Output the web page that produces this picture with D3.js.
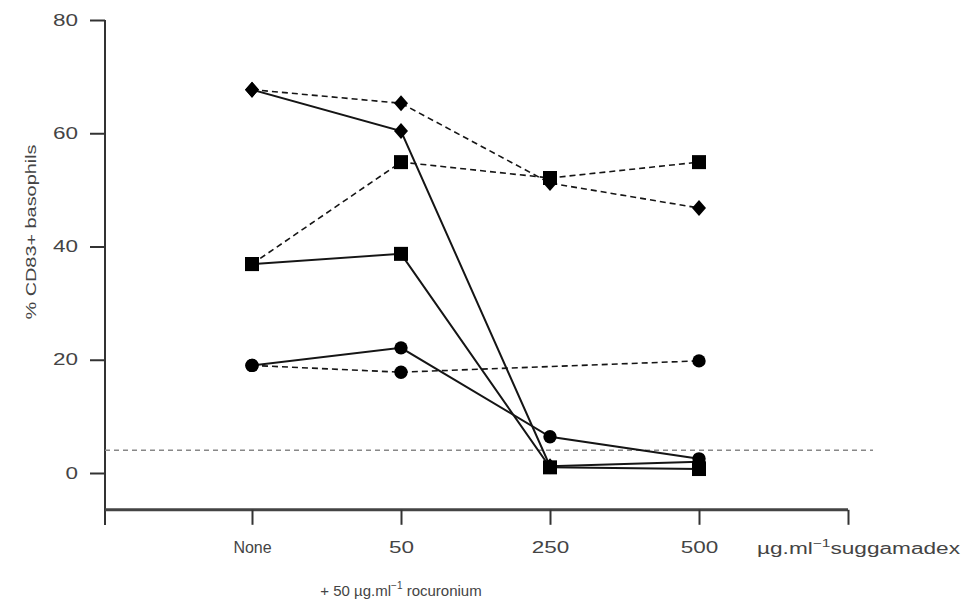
<!DOCTYPE html>
<html>
<head>
<meta charset="utf-8">
<script src="https://cdn.jsdelivr.net/npm/d3@7"></script>
<style>
  html, body { margin: 0; padding: 0; background: #fff; }
  svg { display: block; }
  text { font-family: "Liberation Sans", Arial, Helvetica, sans-serif; fill: #444; }
</style>
</head>
<body>
<svg id="chart" width="976" height="611"></svg>
<script>
// Suggamadex dose on the x axis (with 50 µg/ml rocuronium), % CD83+ basophils on y
const doses = ["None", "50", "250", "500"];
const yTicks = [0, 20, 40, 60, 80];
const threshold = 4;

// One array per patient; null = not measured at that dose
const diamondSolid  = [67.7, 60.4, 1.2, 2.0];
const squareSolid   = [36.9, 38.7, 1.0, 0.7];
const circleSolid   = [19.0, 22.1, 6.4, 2.5];
const diamondDashed = [67.7, 65.3, 51.2, 46.8];
const squareDashed  = [36.9, 54.9, 52.1, 54.9];
const circleDashed  = [19.0, 17.8, null, 19.8];

const series = [
  { values: diamondDashed, marker: "diamond", dashed: true },
  { values: squareDashed,  marker: "square",  dashed: true },
  { values: circleDashed,  marker: "circle",  dashed: true },
  { values: diamondSolid,  marker: "diamond", dashed: false },
  { values: squareSolid,   marker: "square",  dashed: false },
  { values: circleSolid,   marker: "circle",  dashed: false }
];

const svg = d3.select("#chart");
const ink = "#151515";
const digitWidth = 12.5;

// x: four doses plus the trailing unit tick
const x = d3.scalePoint().domain([...doses, "unit"]).range([252, 848]);
const y = d3.scaleLinear().domain([0, 80]).range([473, 20]);
const xLeft = 105;
const yAxisBottom = y(-9.2);
const xAxisY = y(-6.5);

// numbers in this figure are set wide; place them from their left edge
// so the stretched glyphs stay centred / right-aligned on the tick
const fitDigits = (sel, align) => sel.each(function () {
  const t = this.textContent;
  if (/^\d+$/.test(t)) {
    const w = t.length * digitWidth;
    const el = d3.select(this)
      .attr("textLength", w).attr("lengthAdjust", "spacingAndGlyphs")
      .attr("text-anchor", "start");
    if (align === "end") el.attr("x", +el.attr("x") - w);
    else el.attr("x", -w / 2);
  }
});

// y axis
svg.append("line")
  .attr("x1", xLeft).attr("x2", xLeft)
  .attr("y1", y(80)).attr("y2", yAxisBottom)
  .attr("stroke", "#333").attr("stroke-width", 2);
const yAxis = d3.axisLeft(y).tickValues(yTicks).tickSize(15).tickPadding(12);
const gy = svg.append("g").attr("transform", `translate(${xLeft},0)`).call(yAxis);
gy.select(".domain").remove();
gy.selectAll(".tick line").attr("stroke", "#333").attr("stroke-width", 2);
gy.selectAll(".tick text").attr("font-size", 16).attr("fill", "#444")
  .attr("font-family", null).call(fitDigits, "end");

// x axis
svg.append("line")
  .attr("x1", xLeft).attr("x2", x("unit"))
  .attr("y1", xAxisY).attr("y2", xAxisY)
  .attr("stroke", "#444").attr("stroke-width", 3);
const xAxis = d3.axisBottom(x).tickSize(15).tickPadding(17)
  .tickFormat(d => d === "unit" ? "" : d);
const gx = svg.append("g").attr("transform", `translate(0,${xAxisY})`).call(xAxis);
gx.select(".domain").remove();
gx.selectAll(".tick line").attr("stroke", "#333").attr("stroke-width", 2);
gx.selectAll(".tick text").attr("font-size", 16).attr("fill", "#444")
  .attr("font-family", null).call(fitDigits, "middle");

// unit label after the last dose
const unit = svg.append("text")
  .attr("x", 757).attr("y", xAxisY + 44)
  .attr("font-size", 16).attr("fill", "#444")
  .attr("textLength", 203).attr("lengthAdjust", "spacingAndGlyphs");
unit.append("tspan").text("µg.ml");
unit.append("tspan").attr("font-size", 11).attr("dy", -7).text("−1");
unit.append("tspan").attr("dy", 7).text("suggamadex");

// axis titles
const xTitle = svg.append("text")
  .attr("x", x("50")).attr("y", xAxisY + 86)
  .attr("text-anchor", "middle")
  .attr("font-size", 15).attr("fill", "#444");
xTitle.append("tspan").text("+ 50 µg.ml");
xTitle.append("tspan").attr("font-size", 10).attr("dy", -7).text("−1");
xTitle.append("tspan").attr("dy", 7).text(" rocuronium");

// rotated y title, positioned by its start so the stretch stays centred
const yTitleLen = 175;
svg.append("text")
  .attr("transform", `translate(36,${232 + yTitleLen / 2}) rotate(-90)`)
  .attr("text-anchor", "start")
  .attr("font-size", 15).attr("fill", "#444")
  .attr("textLength", yTitleLen).attr("lengthAdjust", "spacingAndGlyphs")
  .text("% CD83+ basophils");

// positivity threshold
svg.append("line")
  .attr("x1", xLeft).attr("x2", 873)
  .attr("y1", y(threshold)).attr("y2", y(threshold))
  .attr("stroke", "#888").attr("stroke-width", 1.5)
  .attr("stroke-dasharray", "5,4");

// lines
const line = d3.line().x(d => x(d.dose)).y(d => y(d.value));
const pts = s => s.values.map((v, i) => ({ dose: doses[i], value: v }))
  .filter(d => d.value !== null);

svg.append("g").selectAll("path")
  .data(series)
  .join("path")
  .attr("d", s => line(pts(s)))
  .attr("fill", "none")
  .attr("stroke", ink)
  .attr("stroke-width", s => s.dashed ? 1.6 : 2)
  .attr("stroke-dasharray", s => s.dashed ? "6,4" : null);

// markers
const markerPath = {
  square: "M-7,-7H7V7H-7Z",
  circle: d3.symbol(d3.symbolCircle, 140)(),
  diamond: "M0,-8L7,0L0,8L-7,0Z"
};
const mk = svg.append("g");
series.forEach(s => {
  mk.append("g").selectAll("path")
    .data(pts(s))
    .join("path")
    .attr("transform", d => `translate(${x(d.dose)},${y(d.value)})`)
    .attr("d", markerPath[s.marker])
    .attr("fill", "#000");
});
</script>
</body>
</html>
